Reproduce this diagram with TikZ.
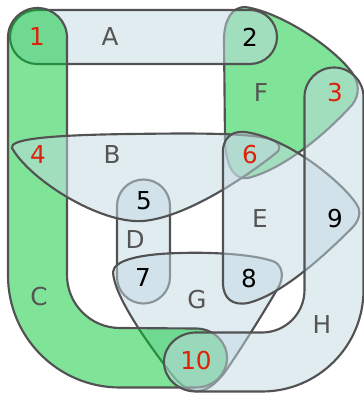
\documentclass[tikz,border=0pt]{standalone}
\usepackage{fontspec}
\setmainfont{DejaVu Sans}
\definecolor{eblue}{RGB}{195,217,227}
\definecolor{egreen}{RGB}{0,200,50}
\definecolor{eline}{RGB}{82,82,82}
\definecolor{nred}{RGB}{220,35,10}
\definecolor{elab}{RGB}{85,85,85}
\tikzset{
  bedge/.style={fill=eblue, fill opacity=0.5, draw=eline, line width=1.6pt},
  gedge/.style={fill=egreen, fill opacity=0.5, draw=eline, line width=1.6pt},
  nlab/.style={font=\fontsize{18.5}{20}\selectfont, text=black, inner sep=0pt},
  rlab/.style={nlab, text=nred},
  elabel/.style={nlab, text=elab}
}
\begin{document}
\begin{tikzpicture}[x=0.75pt,y=-0.75pt]
\useasboundingbox (0,0) rectangle (364,393);
% F
\path[gedge] (225,140) -- (224,40) .. controls (224,20) and (232,7) .. (245,7) .. controls (280,12) and (330,45) .. (350,70) .. controls (360,82) and (360,95) .. (352,105) .. controls (320,140) and (280,170) .. (248,178) .. controls (236,180) and (226,170) .. (225,140) -- cycle;
% A
\path[bedge] (37,10) -- (250,10) arc[start angle=-90,end angle=90,radius=27] -- (37,64) arc[start angle=90,end angle=270,radius=27] -- cycle;
% D
\path[bedge] (117,206) arc[start angle=180,end angle=360,radius=26.5] -- (170,277) arc[start angle=0,end angle=180,radius=26.5] -- cycle;
% G
\path[bedge] (113,272) .. controls (114,295) and (145,340) .. (170,372) .. controls (180,386) and (190,391) .. (197,391) .. controls (206,391) and (215,385) .. (225,372) .. controls (245,343) and (268,305) .. (278,288) .. controls (284,278) and (283,267) .. (275,262) .. controls (255,254) and (210,252) .. (180,253) .. controls (140,254) and (114,260) .. (113,272) -- cycle;
% C
\path[gedge] (8,37.5) arc[start angle=180,end angle=360,radius=29.5] -- (67,275) arc[start angle=180,end angle=90,radius=53] -- (196,328.5) arc[start angle=-90,end angle=90,x radius=31,y radius=29.5] -- (120,387.5) arc[start angle=90,end angle=180,radius=112] -- cycle;
% B
\path[bedge] (12,148) .. controls (9,139) and (50,135) .. (130,134) .. controls (200,133) and (255,133) .. (272,140) .. controls (280,143) and (282,148) .. (276,153) .. controls (255,170) and (190,217) .. (143,221) .. controls (100,224) and (30,180) .. (12,148) -- cycle;
% E
\path[bedge] (223,150) .. controls (224,135) and (235,131) .. (245,132) .. controls (290,138) and (345,185) .. (357,205) .. controls (362,213) and (358,222) .. (352,228) .. controls (320,260) and (280,295) .. (248,303) .. controls (232,306) and (224,298) .. (223,285) -- cycle;
% H
\path[bedge] (304.5,97) arc[start angle=180,end angle=360,radius=29.5] -- (363.5,290) arc[start angle=0,end angle=90,radius=101.5] -- (196,391.5) arc[start angle=90,end angle=270,x radius=32,y radius=29.5] -- (262,332.5) arc[start angle=90,end angle=0,radius=42.5] -- cycle;
% node labels
\node[rlab] (n1) at (37,37) {1};
\node[nlab] (n2) at (250,37) {2};
\node[rlab] (n3) at (335,93) {3};
\node[rlab] (n4) at (38,155) {4};
\node[nlab] (n5) at (144,201) {5};
\node[rlab] (n6) at (250,155) {6};
\node[nlab] (n7) at (143,278) {7};
\node[nlab] (n8) at (249,279) {8};
\node[nlab] (n9) at (335,219) {9};
\node[rlab] (n10) at (196,361) {10};
% edge labels
\node[elabel] (lA) at (110,37) {A};
\node[elabel] (lB) at (112,155) {B};
\node[elabel] (lC) at (39,297) {C};
\node[elabel] (lD) at (135,240) {D};
\node[elabel] (lE) at (260,219) {E};
\node[elabel] (lF) at (261,93) {F};
\node[elabel] (lG) at (197,300) {G};
\node[elabel] (lH) at (322,325) {H};
\end{tikzpicture}
\end{document}
